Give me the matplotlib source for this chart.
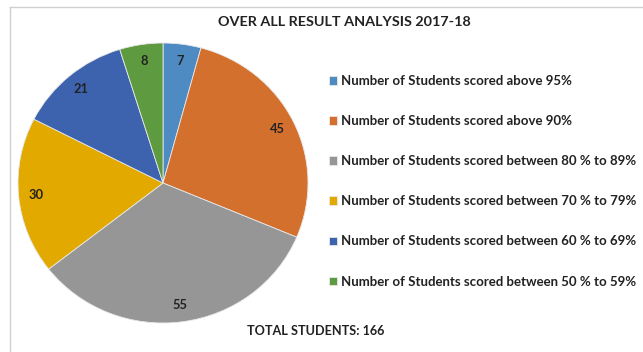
import matplotlib.pyplot as plt
from matplotlib.lines import Line2D

plt.rcParams['font.family'] = ['Lato', 'DejaVu Sans']
plt.rcParams['font.weight'] = 'bold'

categories = [
    "Number of Students scored above 95%",
    "Number of Students scored above 90%",
    "Number of Students scored between 80 % to 89%",
    "Number of Students scored between 70 % to 79%",
    "Number of Students scored between 60 % to 69%",
    "Number of Students scored between 50 % to 59%",
]
students = [7, 45, 55, 30, 21, 8]
colors = ["#4f8bc3", "#d4702e", "#969696", "#e2a900", "#3e63ae", "#5e9a40"]
total = sum(students)

W, H = 643, 352
fig = plt.figure(figsize=(W / 100, H / 100), dpi=100)

# chart area border (left and top edges only show)
fig.add_artist(Line2D([9.5 / W, 9.5 / W], [0, 1 - 7 / H], color="#d0d0d0", lw=1))
fig.add_artist(Line2D([9.5 / W, 1], [1 - 7 / H, 1 - 7 / H], color="#d0d0d0", lw=1))

# pie is slightly wider than tall
cx, cy, rx, ry = 163, 183, 145, 140
ax = fig.add_axes([(cx - rx) / W, (H - cy - ry) / H, 2 * rx / W, 2 * ry / H])
wedges, texts, autotexts = ax.pie(
    students, colors=colors, startangle=90, counterclock=False,
    autopct=lambda p: f"{round(p * total / 100)}", pctdistance=0.88,
    wedgeprops=dict(linewidth=0.6, edgecolor="#e8e8e8"),
    textprops=dict(fontsize=9.3, color="#222222", fontweight="bold"),
)
ax.set_aspect("auto")
ax.set_xlim(-1, 1)
ax.set_ylim(-1, 1)

fig.text(344 / W, 1 - 22 / H, "OVER ALL RESULT ANALYSIS 2017-18", ha="center", va="center",
         fontsize=10.4, fontweight="bold", color="#222222")
fig.text(247 / W, 1 - 331 / H, f"TOTAL STUDENTS: {total}", ha="left", va="center",
         fontsize=9.1, fontweight="bold", color="#222222")

fig.legend(wedges, categories, loc="upper left", bbox_to_anchor=(329 / W, 1 - 75 / H),
           frameon=False, fontsize=9.5, handlelength=0.6, handleheight=0.6,
           handletextpad=0.3, labelspacing=2.13, borderaxespad=0, borderpad=0,
           labelcolor="#222222")

fig.savefig("out.png", dpi=100)
